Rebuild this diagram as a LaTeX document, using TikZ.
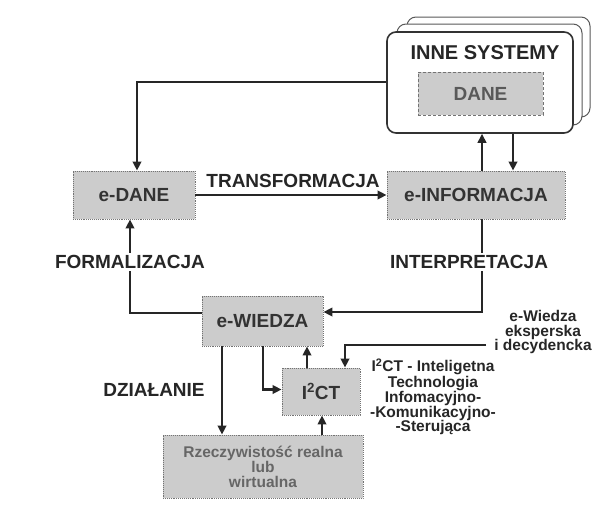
\documentclass[tikz,border=0pt]{standalone}
\usepackage{fontspec}
\setmainfont{Liberation Sans}
\usetikzlibrary{arrows.meta,calc}
\begin{document}
\begin{tikzpicture}[x=1pt,y=-1pt,
 box/.style={draw=black!55, densely dotted, line width=0.9pt, fill=black!20, inner sep=0pt,
   font=\fontsize{19}{20}\selectfont\bfseries, text=black!80},
 sysbox/.style={draw=black!80, line width=1.6pt, fill=white, rounded corners=9pt, inner sep=0pt,
   minimum width=186pt, minimum height=101pt},
 sysback/.style={sysbox, line width=1pt, draw=black!65},
 conn/.style={line width=2.5pt, draw=black!85, -{Triangle[length=9pt,width=8.5pt]}},
 lbl/.style={font=\fontsize{19}{20}\selectfont\bfseries, text=black!85, inner sep=2pt, fill=white},
 small/.style={font=\fontsize{15.5}{14.5}\selectfont\bfseries, text=black!85, align=center, inner sep=0pt},
]
\useasboundingbox (0,0) rectangle (610,522);
\fill[white] (0,0) rectangle (610,522);

% INNE SYSTEMY stack
\node[sysback, minimum width=183pt, minimum height=100pt] (sys3) at (498.5,67) {};
\node[sysback, minimum width=185pt] (sys2) at (489.5,74.5) {};
\node[sysbox] (sys) at (480,82.5) {};
\node[font=\fontsize{20}{21}\selectfont\bfseries, text=black!85] (systxt) at (485,53) {INNE SYSTEMY};
\node[box, densely dashed, minimum width=125pt, minimum height=43pt, text=black!65] (dane) at (480.5,93.5) {DANE};

% main boxes
\node[box, minimum width=122pt, minimum height=48pt] (edane) at (134,195) {e-DANE};
\node[box, minimum width=178pt, minimum height=48pt] (einfo) at (476,195) {e-INFORMACJA};
\node[box, minimum width=121pt, minimum height=50pt] (ewiedza) at (262.5,321) {e-WIEDZA};
\node[box, minimum width=78pt, minimum height=47pt] (ict) at (321,391.5) {I\textsuperscript{2}CT};
\node[box, minimum width=200pt, minimum height=63pt, align=center,
  font=\fontsize{15.5}{15}\selectfont\bfseries, text=black!60] (rz) at (263,466.5)
  {Rzeczywistość realna\\lub\\wirtualna};

% connectors
\draw[conn] (sys.west |- 0,82) -| ([xshift=3pt]edane.north);
\draw[conn] (edane.east) -- (einfo.west);
\draw[conn] ([xshift=6pt]einfo.north) -- ([xshift=6pt]einfo.north |- sys.south);
\draw[conn] ([xshift=37pt]einfo.north |- sys.south) -- ([xshift=37pt]einfo.north);
\draw[conn] ([yshift=8pt]ewiedza.west) -| ([xshift=-4pt]edane.south);
\draw[conn] ([xshift=6pt]einfo.south) |- ([yshift=9pt]ewiedza.east);
\draw[conn] ([xshift=-40.5pt]ewiedza.south) -- ([xshift=-40.5pt]ewiedza.south |- rz.north);
\draw[conn] ([xshift=0.5pt]ewiedza.south) |- ([yshift=2pt]ict.west);
\draw[conn] ([xshift=-14pt]ict.north) -- ([xshift=-14pt]ict.north |- ewiedza.south);
\coordinate (expin) at (486,345);
\draw[conn] (expin) -| ([xshift=24pt]ict.north);
\draw[conn] ([xshift=59pt]rz.north) -- ([xshift=59pt]rz.north |- ict.south);

% labels
\node[lbl] (ltrans) at (293,181) {TRANSFORMACJA};
\node[lbl] (lform) at (130,262) {FORMALIZACJA};
\node[lbl] (linterp) at (469,262) {INTERPRETACJA};
\node[lbl] (ldzial) at (154,390) {DZIAŁANIE};
\node[small] (lexp) at (543,332) {e-Wiedza\\eksperska\\i decydencka};
\node[small] (lict) at (433,397) {I\textsuperscript{2}CT - Inteligetna\\Technologia\\Infomacyjno-\\-Komunikacyjno-\\-Sterująca};
\end{tikzpicture}
\end{document}
